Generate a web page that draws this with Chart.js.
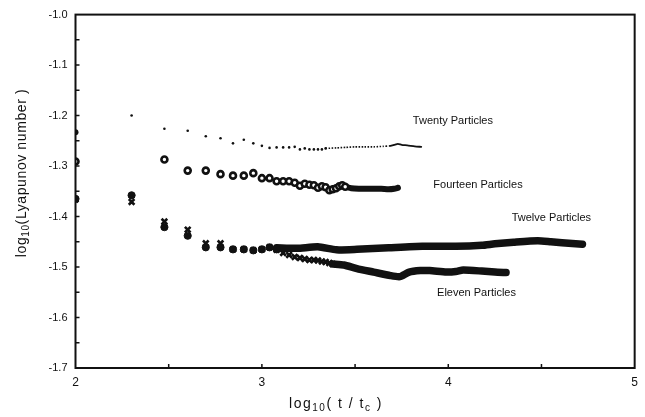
<!DOCTYPE html>
<html>
<head>
<meta charset="utf-8">
<script src="https://cdn.jsdelivr.net/npm/chart.js@4.4.0/dist/chart.umd.min.js"></script>
<style>
  html, body { margin: 0; padding: 0; background: #fff; }
  #wrap { width: 645px; height: 417px; }
</style>
</head>
<body>
<div id="wrap"><canvas id="c"></canvas></div>
<script>
// --- DATA --- //
// x = log10(t/tc), y = log10(Lyapunov number)

// twenty particles: separate small dots, then a dense dotted run
const twentyX = [2.0, 2.301, 2.477, 2.602, 2.699, 2.778, 2.845, 2.903, 2.954, 3.0, 3.041, 3.079, 3.114, 3.146, 3.176, 3.204, 3.230, 3.255, 3.279, 3.301, 3.322, 3.342];
const twentyY = [-1.233, -1.200, -1.226, -1.230, -1.241, -1.245, -1.255, -1.248, -1.255, -1.260, -1.264, -1.263, -1.263, -1.263, -1.262, -1.267, -1.265, -1.267, -1.267, -1.267, -1.267, -1.265];
const twentyRunX = [3.342, 3.40, 3.45, 3.50, 3.55, 3.60, 3.65, 3.69];
const twentyRunY = [-1.265, -1.264, -1.263, -1.262, -1.262, -1.262, -1.261, -1.260];
const twentyEndX = [3.69, 3.71, 3.73, 3.75, 3.78, 3.82, 3.855];
const twentyEndY = [-1.260, -1.258, -1.256, -1.258, -1.259, -1.261, -1.262];

// fourteen particles
const fourteenX = [2.0, 2.477, 2.602, 2.699, 2.778, 2.845, 2.903, 2.954, 3.0, 3.041, 3.079, 3.114, 3.146, 3.176, 3.204, 3.230, 3.255, 3.279, 3.301, 3.322, 3.342, 3.362, 3.380, 3.398, 3.415, 3.431, 3.447];
const fourteenY = [-1.291, -1.287, -1.309, -1.309, -1.316, -1.319, -1.319, -1.314, -1.324, -1.324, -1.330, -1.330, -1.330, -1.333, -1.339, -1.335, -1.337, -1.338, -1.343, -1.340, -1.342, -1.348, -1.346, -1.344, -1.340, -1.338, -1.341];
const fourteenRunX = [3.447, 3.48, 3.52, 3.56, 3.60, 3.64, 3.68, 3.71, 3.73];
const fourteenRunY = [-1.341, -1.344, -1.345, -1.345, -1.345, -1.345, -1.346, -1.345, -1.343];

// twelve particles
const twelveX = [2.0, 2.301, 2.477, 2.602, 2.699, 2.778, 2.845, 2.903, 2.954, 3.0, 3.041, 3.079];
const twelveY = [-1.365, -1.358, -1.421, -1.438, -1.461, -1.461, -1.465, -1.465, -1.467, -1.465, -1.461, -1.465];
const twelveRunX = [3.079, 3.19, 3.30, 3.40, 3.51, 3.68, 3.86, 4.04, 4.18, 4.25, 4.35, 4.48, 4.55, 4.61, 4.72];
const twelveRunY = [-1.462, -1.463, -1.460, -1.466, -1.465, -1.462, -1.459, -1.459, -1.457, -1.454, -1.451, -1.448, -1.450, -1.452, -1.455];

// eleven particles
const elevenX = [2.0, 2.301, 2.477, 2.602, 2.699, 2.778, 2.845, 2.903, 2.954, 3.0, 3.041, 3.079, 3.114, 3.146, 3.176, 3.204, 3.230, 3.255, 3.279, 3.301, 3.322, 3.342, 3.362, 3.380];
const elevenY = [-1.366, -1.371, -1.410, -1.426, -1.453, -1.453, -1.465, -1.465, -1.467, -1.465, -1.461, -1.466, -1.472, -1.476, -1.480, -1.482, -1.484, -1.486, -1.486, -1.487, -1.489, -1.490, -1.492, -1.494];
const elevenRunX = [3.380, 3.44, 3.51, 3.60, 3.69, 3.74, 3.79, 3.85, 3.90, 3.99, 4.04, 4.08, 4.18, 4.25, 4.31];
const elevenRunY = [-1.494, -1.496, -1.503, -1.510, -1.517, -1.519, -1.510, -1.507, -1.507, -1.510, -1.509, -1.506, -1.508, -1.510, -1.511];

const xTicks = [2, 3, 4, 5];
const yTicks = [-1.7, -1.6, -1.5, -1.4, -1.3, -1.2, -1.1, -1.0];

// series label text + where it sits (data coords of its left edge)
const seriesLabels = ["Twenty Particles", "Fourteen Particles", "Twelve Particles", "Eleven Particles"];
const labelX = [3.81, 3.92, 4.34, 3.94];
const labelY = [-1.210, -1.337, -1.403, -1.551];

const INK = "#111";
const FONT = "'Liberation Sans', Arial, sans-serif";

function pts(xs, ys) { return xs.map((x, i) => ({x: x, y: ys[i]})); }

function band(xs, ys, w, dash) {
  return {
    data: pts(xs, ys), showLine: true, borderColor: INK, borderWidth: w, borderDash: dash || [],
    borderCapStyle: dash ? "butt" : "round", borderJoinStyle: "round", pointRadius: 0, tension: 0.2
  };
}

// frame, inward ticks, axis titles with subscripts, series labels
const decor = {
  id: "decor",
  afterDatasetsDraw(chart) {
    const ctx = chart.ctx, a = chart.chartArea;
    const xs = chart.scales.x, ys = chart.scales.y;
    ctx.save();
    ctx.strokeStyle = INK;
    ctx.lineWidth = 2;
    ctx.strokeRect(a.left, a.top, a.right - a.left, a.bottom - a.top);

    ctx.lineWidth = 1.5;
    ctx.beginPath();
    for (let v = -1.65; v < -1.0; v += 0.05) {
      const py = ys.getPixelForValue(v);
      ctx.moveTo(a.left, py); ctx.lineTo(a.left + 4, py);
    }
    for (let v = 2.5; v < 5; v += 0.5) {
      const px = xs.getPixelForValue(v);
      ctx.moveTo(px, a.bottom); ctx.lineTo(px, a.bottom - 4);
    }
    ctx.stroke();

    ctx.fillStyle = INK;
    ctx.textBaseline = "middle";
    ctx.textAlign = "left";
    ctx.font = "11px " + FONT;
    seriesLabels.forEach((t, i) => {
      ctx.fillText(t, xs.getPixelForValue(labelX[i]), ys.getPixelForValue(labelY[i]));
    });

    // subscripted title: parts = [[text, isSub], ...]
    function title(parts, cx, cy, rot, spacing) {
      const big = "14px " + FONT, small = "10px " + FONT;
      ctx.letterSpacing = spacing + "px";
      let w = 0;
      parts.forEach(p => { ctx.font = p[1] ? small : big; w += ctx.measureText(p[0]).width; });
      ctx.save();
      ctx.translate(cx, cy);
      ctx.rotate(rot);
      let x = -w / 2;
      ctx.textAlign = "left";
      parts.forEach(p => {
        ctx.font = p[1] ? small : big;
        ctx.fillText(p[0], x, p[1] ? 4 : 0);
        x += ctx.measureText(p[0]).width;
      });
      ctx.restore();
      ctx.letterSpacing = "0px";
    }
    title([["log", false], ["10", true], ["( t / t", false], ["c", true], [" )", false]], 336, 404, 0, 1.5);
    title([["log", false], ["10", true], ["(Lyapunov number )", false]], 22, 173, -Math.PI / 2, 0.6);
    ctx.restore();
  }
};

const twentyRadius = twentyX.map((x, i) => i === 0 ? 3 : 1.3);

new Chart(document.getElementById("c"), {
  type: "scatter",
  data: {
    datasets: [
      {data: pts(twentyX, twentyY), pointStyle: "circle", pointRadius: twentyRadius, pointBackgroundColor: INK, pointBorderWidth: 0},
      band(twentyRunX, twentyRunY, 1.6, [1.5, 1.5]),
      band(twentyEndX, twentyEndY, 1.8),
      {data: pts(fourteenX, fourteenY), pointStyle: "circle", pointRadius: 3, pointBackgroundColor: "#fff", pointBorderColor: INK, pointBorderWidth: 2.6},
      band(fourteenRunX, fourteenRunY, 6),
      {data: pts(twelveX, twelveY), pointStyle: "circle", pointRadius: 3.6, pointBackgroundColor: INK, pointBorderColor: INK, pointBorderWidth: 1},
      band(twelveRunX, twelveRunY, 7.5),
      {data: pts(elevenX, elevenY), pointStyle: "crossRot", pointRadius: 4, pointBorderColor: INK, pointBorderWidth: 2.6},
      band(elevenRunX, elevenRunY, 7.5)
    ]
  },
  options: {
    responsive: true,
    maintainAspectRatio: false,
    animation: false,
    layout: {padding: {top: 13, right: 4, left: 0, bottom: 0}},
    plugins: {legend: {display: false}, tooltip: {enabled: false}},
    scales: {
      x: {
        type: "linear", min: 2, max: 5,
        grid: {display: false, drawTicks: false}, border: {display: false},
        afterBuildTicks: s => { s.ticks = xTicks.map(v => ({value: v})); },
        ticks: {padding: 7, color: INK, font: {family: FONT, size: 12}, callback: v => String(v)},
        afterFit: s => { s.height = 49; }
      },
      y: {
        min: -1.7, max: -1.0,
        grid: {display: false, drawTicks: false}, border: {display: false},
        afterBuildTicks: s => { s.ticks = yTicks.map(v => ({value: v})); },
        ticks: {padding: 8, color: INK, font: {family: FONT, size: 11}, callback: v => v.toFixed(1)},
        afterFit: s => { s.width = 75.5; }
      }
    }
  },
  plugins: [decor]
});
</script>
</body>
</html>
